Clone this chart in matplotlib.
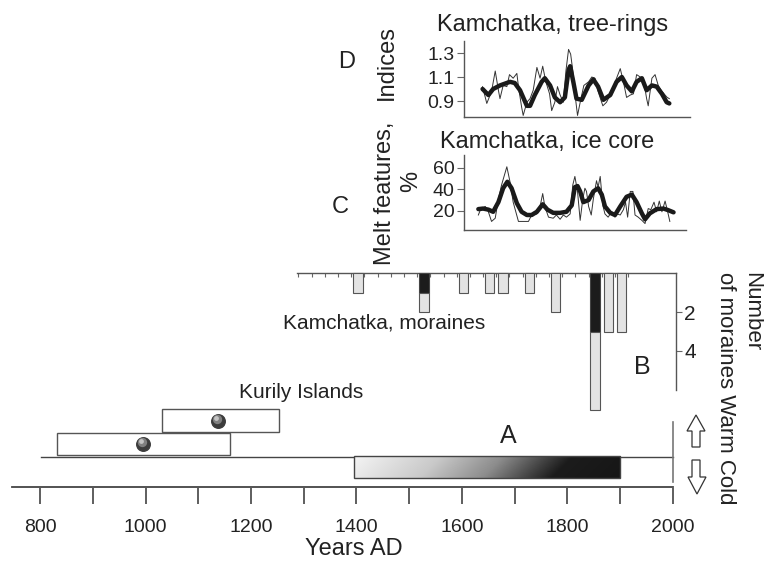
import matplotlib.pyplot as plt
import numpy as np
from matplotlib.colors import LinearSegmentedColormap
from matplotlib.patches import Rectangle, Polygon
from matplotlib.transforms import offset_copy

plt.rcParams['font.family'] = ['Liberation Sans', 'DejaVu Sans']

W, H = 764, 568

# D: Kamchatka tree-ring indices, raw and smoothed
ring_years = [1639, 1647, 1656, 1663, 1669, 1672, 1678, 1685, 1690, 1697, 1704, 1707,
              1713, 1716, 1723, 1729, 1735, 1742, 1748, 1753, 1759, 1766, 1770, 1776,
              1781, 1786, 1792, 1797, 1802, 1806, 1811, 1816, 1819, 1825, 1831, 1840,
              1846, 1852, 1858, 1867, 1874, 1884, 1893, 1900, 1906, 1912, 1919, 1925,
              1931, 1938, 1944, 1950, 1953, 1960, 1966, 1972, 1979, 1985, 1989, 1993]
ring_raw = [1.02, 0.88, 0.98, 1.15, 0.99, 0.92, 1.03, 1.02, 1.12, 1.09, 1.13, 1.02,
            0.85, 0.78, 0.89, 0.92, 0.99, 1.18, 1.09, 1.19, 1.06, 0.96, 0.82, 0.89,
            1.02, 0.95, 0.89, 1.15, 1.33, 1.29, 1.12, 0.89, 0.78, 0.91, 1.03, 1.06,
            1.10, 1.09, 0.98, 0.86, 0.89, 0.98, 1.09, 1.17, 1.06, 0.93, 0.95, 0.96,
            1.12, 1.10, 1.08, 0.92, 0.86, 1.09, 1.12, 1.03, 0.98, 0.95, 0.93, 0.92]
ring_smooth_years = [1639, 1650, 1659, 1672, 1691, 1700, 1710, 1723, 1729, 1738, 1751,
                     1757, 1767, 1776, 1786, 1795, 1802, 1805, 1811, 1817, 1827, 1840,
                     1849, 1858, 1868, 1881, 1893, 1903, 1912, 1922, 1931, 1941, 1950,
                     1960, 1969, 1979, 1988, 1993]
ring_smooth = [1.00, 0.95, 1.00, 1.03, 1.06, 1.05, 0.99, 0.86, 0.86, 0.95, 1.06,
               1.09, 1.03, 0.93, 0.89, 0.93, 1.16, 1.19, 1.06, 0.92, 0.91, 1.03,
               1.08, 1.02, 0.91, 0.95, 1.06, 1.10, 1.03, 0.98, 1.06, 1.09, 0.99,
               1.03, 1.02, 0.96, 0.89, 0.88]

# C: Kamchatka ice core melt features, %
ice_years = [1631, 1635, 1644, 1650, 1656, 1663, 1669, 1675, 1685, 1691, 1697, 1707,
             1716, 1726, 1732, 1742, 1748, 1753, 1757, 1764, 1773, 1779, 1786, 1792,
             1798, 1805, 1810, 1814, 1819, 1824, 1829, 1833, 1836, 1840, 1845, 1849,
             1855, 1858, 1862, 1867, 1871, 1877, 1884, 1890, 1894, 1900, 1906, 1910,
             1914, 1919, 1924, 1928, 1934, 1941, 1947, 1953, 1958, 1964, 1969, 1974,
             1979, 1985, 1989, 1994]
ice_raw = [16, 21, 24, 19, 10, 13, 31, 44, 61, 47, 28, 10,
           10, 10, 16, 17, 24, 36, 24, 14, 13, 16, 12, 16,
           14, 17, 44, 52, 38, 11, 31, 41, 38, 24, 16, 31,
           48, 42, 52, 25, 17, 14, 19, 14, 17, 16, 21, 28,
           14, 38, 38, 16, 14, 11, 8, 22, 21, 28, 19, 29,
           19, 29, 21, 10]
ice_smooth_years = [1631, 1640, 1650, 1659, 1669, 1678, 1686, 1694, 1704, 1713, 1723,
                    1732, 1742, 1753, 1762, 1773, 1786, 1798, 1808, 1814, 1819, 1824,
                    1830, 1840, 1849, 1858, 1865, 1871, 1881, 1890, 1900, 1912, 1922,
                    1931, 1941, 1947, 1956, 1969, 1982, 1991, 2001]
ice_smooth = [21.5, 22, 21, 19, 28, 41, 47, 41, 27, 19, 16,
              16, 19, 26, 21, 18, 18, 19, 25, 42, 43, 38,
              28, 30, 38, 41, 35, 24, 18, 16, 24, 33, 35,
              28, 17.5, 12, 17.5, 21.5, 22, 20.5, 18.5]

# B: Kamchatka moraines per 25-year bin
moraine_years = [1402.5, 1527.5, 1602.5, 1652.5, 1677.5, 1727.5, 1777.5,
                 1852.5, 1877.5, 1902.5]
moraine_dark = [0, 1, 0, 0, 0, 0, 0, 3, 0, 0]
moraine_light = [1, 1, 1, 1, 1, 1, 2, 4, 3, 3]

# A: Kurily Islands intervals with central dates, and the cold period
kurily_spans = [(832, 1160), (1031, 1253)]
kurily_dates = [995, 1138]
cold_span = (1395, 1900)

axis_ticks = list(range(800, 2001, 100))
axis_labels = list(range(800, 2001, 200))

INK = '#222222'
LINE = '#555555'


def year_to_px(yr):
    return 40 + (yr - 800) * 0.5275


def px_to_year(p):
    return 800 + (p - 40) / 0.5275


fig = plt.figure(figsize=(W / 100, H / 100), dpi=100)


def add_box(x0, y0, x1, y1):
    ax = fig.add_axes([x0 / W, 1 - y1 / H, (x1 - x0) / W, (y1 - y0) / H])
    ax.set_xlim(px_to_year(x0), px_to_year(x1))
    ax.patch.set_alpha(0)
    return ax


# ---- panel A and the time axis (x in years, y in pixels) ----
ax_a = add_box(0, 0, W, H)
ax_a.set_ylim(H, 0)
ax_a.axis('off')

ax_a.plot([px_to_year(12), px_to_year(673)], [487, 487], color='#444444', lw=1.3)
ax_a.vlines(axis_ticks, 488, 504, color='#333333', lw=1.1)
for yr in axis_labels:
    ax_a.text(yr, 527, str(yr), ha='center', va='center', fontsize=14, color=INK)
ax_a.text(px_to_year(354), 549, 'Years AD', ha='center', va='center', fontsize=17, color=INK)

ax_a.plot([px_to_year(41), px_to_year(673)], [457, 457], color='#444444', lw=1.0)
ax_a.plot([px_to_year(673), px_to_year(673)], [422, 482], color='#777777', lw=1.2)

box_rows = [(433, 455), (409, 432)]
for (y0, y1), (t0, t1), yr in zip(box_rows, kurily_spans, kurily_dates):
    ax_a.add_patch(Rectangle((t0, y0), t1 - t0, y1 - y0, facecolor='white',
                             edgecolor='#555555', lw=1.0))
    yc = (y0 + y1) / 2
    ax_a.scatter([yr], [yc], s=95, color='#3c3c3c', zorder=3)
    hl = offset_copy(ax_a.transData, fig=fig, x=-0.8, y=1.2, units='points')
    ax_a.scatter([yr], [yc], s=45, color='#808080', zorder=4, transform=hl, linewidths=0)
    hl2 = offset_copy(ax_a.transData, fig=fig, x=-1.4, y=2.0, units='points')
    ax_a.scatter([yr], [yc], s=12, color='#c4c4c4', zorder=5, transform=hl2, linewidths=0)

cmap = LinearSegmentedColormap.from_list(
    'cold', [(0, '#f4f4f4'), (0.3, '#c9c9c9'), (0.52, '#8c8c8c'),
             (0.68, '#404040'), (0.76, '#1c1c1c'), (1, '#161616')])
gx = np.linspace(0, 1, 300)
gy = np.linspace(0, 1, 30)
grad = gx[None, :] + 0.08 * gy[:, None]
ax_a.imshow(grad, extent=(cold_span[0], cold_span[1], 478, 456), aspect='auto',
            cmap=cmap, vmin=0, vmax=1.08, zorder=2)
ax_a.add_patch(Rectangle((cold_span[0], 456), cold_span[1] - cold_span[0], 22,
                         fill=False, edgecolor='#444444', lw=1.0, zorder=3))
ax_a.set_xlim(px_to_year(0), px_to_year(W))
ax_a.set_ylim(H, 0)

# ---- panel B: moraine counts ----
ax_b = add_box(297, 273, 676, 390)
ax_b.set_ylim(6, 0)
for side in ('left', 'bottom'):
    ax_b.spines[side].set_visible(False)
for side in ('top', 'right'):
    ax_b.spines[side].set_color(LINE)
    ax_b.spines[side].set_linewidth(1.0)
ax_b.xaxis.tick_top()
ax_b.set_xticks(np.arange(1290, 1916, 25))
ax_b.tick_params(axis='x', direction='in', length=3, width=0.8, color='#666666',
                 labeltop=False)
ax_b.yaxis.tick_right()
ax_b.set_yticks([2, 4])
ax_b.tick_params(axis='y', direction='out', length=4, width=0.8, color='#666666',
                 labelsize=15, labelcolor=INK, pad=2)
dark_x = [x for x, d in zip(moraine_years, moraine_dark) if d > 0]
dark_h = [d for d in moraine_dark if d > 0]
ax_b.bar(dark_x, dark_h, width=18, color='#1c1c1c', edgecolor='#444444', lw=0.8,
         clip_on=False, zorder=3)
ax_b.bar(moraine_years, moraine_light, bottom=moraine_dark, width=18, color='#e3e3e3',
         edgecolor='#555555', lw=0.8, clip_on=False, zorder=3)


def small_panel(box, ylim, ticks, labels):
    ax = add_box(*box)
    ax.set_ylim(*ylim)
    for side in ('top', 'right'):
        ax.spines[side].set_visible(False)
    for side in ('left', 'bottom'):
        ax.spines[side].set_color(LINE)
        ax.spines[side].set_linewidth(1.0)
    ax.set_xticks([])
    ax.set_yticks(ticks)
    ax.set_yticklabels(labels)
    ax.tick_params(axis='y', direction='out', length=5, width=0.8, color='#666666',
                   labelsize=14, labelcolor=INK, pad=2)
    return ax


# ---- panel D: tree rings ----
ax_d = small_panel((464, 41, 690, 117), (0.767, 1.40), [0.9, 1.1, 1.3], ['0.9', '1.1', '1.3'])
ax_d.plot(ring_years, ring_raw, color='#333333', lw=0.7)
ax_d.plot(ring_smooth_years, ring_smooth, color='#1a1a1a', lw=3.2, solid_joinstyle='round',
          solid_capstyle='round')

# ---- panel C: ice core ----
ax_c = small_panel((464, 155, 686, 230), (2, 72), [20, 40, 60], ['20', '40', '60'])
ax_c.plot(ice_years, ice_raw, color='#333333', lw=0.7)
ax_c.plot(ice_smooth_years, ice_smooth, color='#1a1a1a', lw=3.2, solid_joinstyle='round',
          solid_capstyle='round')

# ---- labels and arrows in pixel space ----
ax_t = fig.add_axes([0, 0, 1, 1])
ax_t.set_xlim(0, W)
ax_t.set_ylim(H, 0)
ax_t.axis('off')

ax_t.text(553, 31, 'Kamchatka, tree-rings', ha='center', va='baseline', fontsize=17, color=INK)
ax_t.text(547, 148, 'Kamchatka, ice core', ha='center', va='baseline', fontsize=17, color=INK)
ax_t.text(387, 62, 'Indices', rotation=90, ha='center', va='center', fontsize=17, color=INK)
ax_t.text(385, 193, 'Melt features,', rotation=90, ha='center', va='center', fontsize=17, color=INK)
ax_t.text(411, 181, '%', rotation=90, ha='center', va='center', fontsize=17, color=INK)
ax_t.text(347, 62, 'D', ha='center', va='center', fontsize=17, color=INK)
ax_t.text(340, 207, 'C', ha='center', va='center', fontsize=17, color=INK)
ax_t.text(384, 323, 'Kamchatka, moraines', ha='center', va='center', fontsize=15, color=INK)
ax_t.text(301, 392, 'Kurily Islands', ha='center', va='center', fontsize=15, color=INK)
ax_t.text(642, 367, 'B', ha='center', va='center', fontsize=18, color=INK)
ax_t.text(508, 436, 'A', ha='center', va='center', fontsize=18, color=INK)
ax_t.text(752, 272, 'Number', rotation=270, ha='center', va='top', fontsize=16, color=INK)
ax_t.text(725, 272, 'of moraines Warm Cold', rotation=270, ha='center', va='top',
          fontsize=16, color=INK)

up = [(696, 415), (705, 431), (700, 431), (700, 447), (692, 447), (692, 431), (687, 431)]
down = [(692, 460), (700, 460), (700, 477), (706, 477), (697, 494), (688, 477), (692, 477)]
for shape in (up, down):
    ax_t.add_patch(Polygon(shape, closed=True, facecolor='white', edgecolor='#333333', lw=0.9))

fig.savefig('out.png', dpi=100)
